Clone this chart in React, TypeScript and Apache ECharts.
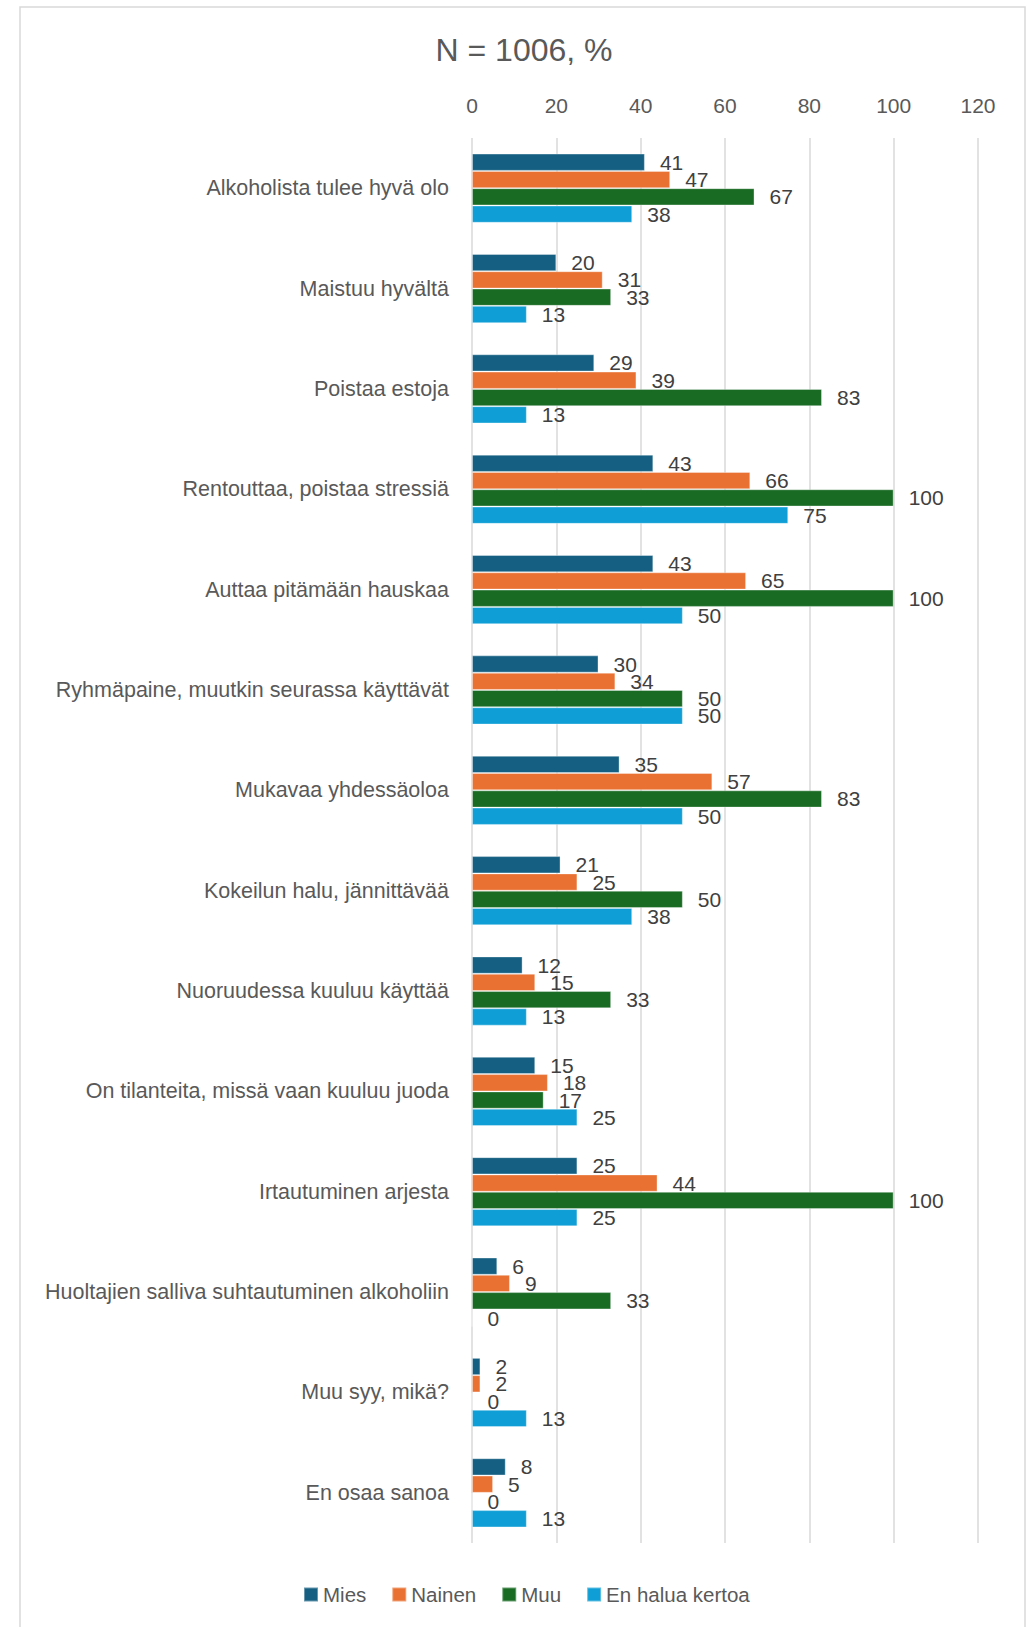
import React, { useEffect, useRef } from 'react';
import * as echarts from 'echarts';

const categories = [
  'Alkoholista tulee hyvä olo',
  'Maistuu hyvältä',
  'Poistaa estoja',
  'Rentouttaa, poistaa stressiä',
  'Auttaa pitämään hauskaa',
  'Ryhmäpaine, muutkin seurassa käyttävät',
  'Mukavaa yhdessäoloa',
  'Kokeilun halu, jännittävää',
  'Nuoruudessa kuuluu käyttää',
  'On tilanteita, missä vaan kuuluu juoda',
  'Irtautuminen arjesta',
  'Huoltajien salliva suhtautuminen alkoholiin',
  'Muu syy, mikä?',
  'En osaa sanoa',
];

const seriesNames = ['Mies', 'Nainen', 'Muu', 'En halua kertoa'];
const mies = [41, 20, 29, 43, 43, 30, 35, 21, 12, 15, 25, 6, 2, 8];
const nainen = [47, 31, 39, 66, 65, 34, 57, 25, 15, 18, 44, 9, 2, 5];
const muu = [67, 33, 83, 100, 100, 50, 83, 50, 33, 17, 100, 33, 0, 0];
const enHaluaKertoa = [38, 13, 13, 75, 50, 50, 50, 38, 13, 25, 25, 0, 13, 13];
const seriesValues = [mies, nainen, muu, enHaluaKertoa];

const xMin = 0;
const xMax = 120;
const xStep = 20;

const titleText = 'N = 1006, %';
const colors = ['#156082', '#E97132', '#196B24', '#0F9ED5'];
const FONT = '"Liberation Sans", Arial, sans-serif';

export default function App() {
  const ref = useRef<HTMLDivElement>(null);
  useEffect(() => {
    if (!ref.current) return;
    const chart = echarts.init(ref.current, undefined, { renderer: 'svg' });
    chart.setOption({
      animation: false,
      backgroundColor: '#ffffff',
      textStyle: { fontFamily: FONT },
      title: {
        text: titleText,
        left: 519,
        top: 45,
        textAlign: 'center',
        textVerticalAlign: 'middle',
        textStyle: { fontSize: 32, fontWeight: 'normal', color: '#595959', fontFamily: FONT },
      },
      graphic: [
        {
          type: 'rect',
          silent: true,
          shape: { x: 20, y: 7, width: 1005, height: 1660 },
          style: { fill: 'none', stroke: '#d9d9d9', lineWidth: 1.5 },
        },
      ],
      legend: {
        data: seriesNames,
        left: 303,
        top: 1584,
        padding: 0,
        itemWidth: 14,
        itemHeight: 14,
        itemGap: 25,
        icon: 'rect',
        textStyle: { fontSize: 20.5, color: '#595959', fontFamily: FONT },
      },
      grid: { left: 472, right: 49, top: 138, bottom: 84, containLabel: false },
      xAxis: {
        type: 'value',
        position: 'top',
        min: xMin,
        max: xMax,
        interval: xStep,
        axisLine: { show: false },
        axisTick: { show: false },
        axisLabel: { fontSize: 21, color: '#595959', margin: 22, fontFamily: FONT },
        splitLine: { show: true, lineStyle: { color: '#d9d9d9', width: 1.5 } },
      },
      yAxis: {
        type: 'category',
        data: categories,
        inverse: true,
        axisLine: { show: false },
        axisTick: { show: false },
        axisLabel: { fontSize: 21.5, color: '#595959', margin: 23, fontFamily: FONT },
      },
      series: seriesNames.map((name, i) => ({
        name,
        type: 'bar',
        data: seriesValues[i],
        barWidth: 17.3,
        barGap: '0%',
        itemStyle: { color: colors[i], borderColor: 'rgba(255,255,255,0.35)', borderWidth: 1 },
        label: {
          show: true,
          position: 'right',
          distance: 15,
          fontSize: 21,
          color: '#404040',
          fontFamily: FONT,
        },
      })),
    });
    return () => chart.dispose();
  }, []);
  return (
    <div
      ref={ref}
      style={{ position: 'absolute', left: 0, top: 0, width: 1027, height: 1627 }}
    />
  );
}
